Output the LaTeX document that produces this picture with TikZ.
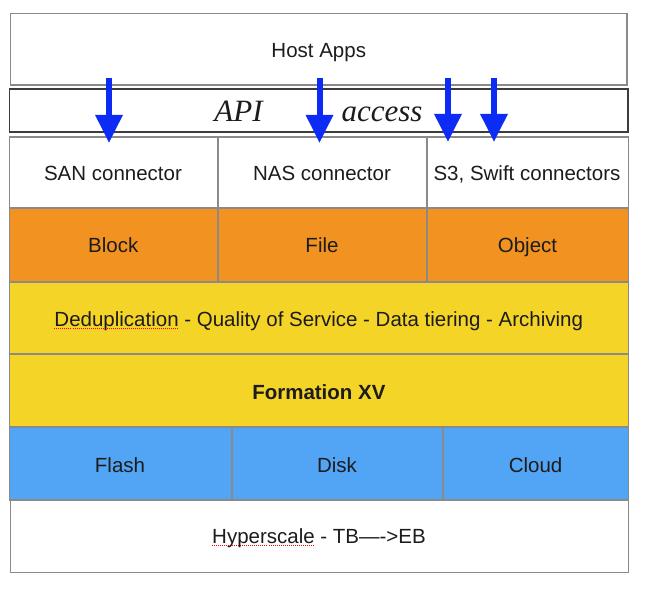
\documentclass[tikz,border=0pt]{standalone}
\usepackage{fontspec}
\setmainfont{Liberation Sans}
\newfontfamily\apifont{Liberation Serif}
\usetikzlibrary{arrows.meta}
\definecolor{bordergray}{RGB}{138,138,138}
\definecolor{apiborder}{RGB}{60,60,60}
\definecolor{layerorange}{RGB}{242,146,32}
\definecolor{layeryellow}{RGB}{245,212,40}
\definecolor{layerblue}{RGB}{82,165,245}
\definecolor{arrowblue}{RGB}{12,44,245}
\definecolor{txtcol}{RGB}{28,28,28}
\newcommand\spellmark[1]{\leavevmode\setbox0\hbox{#1}\rlap{\textcolor{red}{\raisebox{-2.6pt}{\hbox to\wd0{\xleaders\hbox{\rule{1pt}{1pt}\kern1pt}\hfill}}}}\box0\relax}
\begin{document}
\begin{tikzpicture}[x=1pt,y=-1pt,
  box/.style={draw=bordergray,line width=1.6pt},
  apibox/.style={draw=apiborder,line width=1.2pt,fill=white},
  whitebox/.style={box,fill=white},
  orangebox/.style={box,fill=layerorange},
  yellowbox/.style={box,fill=layeryellow},
  bluebox/.style={box,fill=layerblue},
  txt/.style={anchor=base,inner sep=0pt,text=txtcol,font=\fontsize{20.5}{24}\selectfont},
  apitxt/.style={anchor=base,inner sep=0pt,text=txtcol,font=\apifont\itshape\fontsize{31}{36}\selectfont},
  bluearrow/.style={draw=arrowblue,line width=6pt,-{Triangle[width=26pt,length=28pt,fill=arrowblue]}}]
\useasboundingbox[fill=white] (0,0) rectangle (648,591);
% host apps
\draw[whitebox] (10.5,13.5) rectangle (627,85);
\node[txt] (host) at (318.75,57.3) {Host Apps};
% api
\draw[apibox] (9.5,89) rectangle (628,132);
\node[apitxt] (api) at (318.5,121.7) {API\hspace{79pt}access};
% connectors
\draw[whitebox] (9.5,137) rectangle (218,208);
\draw[whitebox] (218,137) rectangle (427,208);
\draw[whitebox] (427,137) rectangle (628.5,208);
\node[txt] (san) at (113,181) {SAN connector};
\node[txt] (nas) at (322,181) {NAS connector};
\node[txt] (s3) at (527,181) {S3, Swift connectors};
% protocols
\draw[orangebox] (9.5,208) rectangle (218,282);
\draw[orangebox] (218,208) rectangle (427,282);
\draw[orangebox] (427,208) rectangle (628.5,282);
\node[txt] (block) at (113.3,252.3) {Block};
\node[txt] (file) at (322,252.3) {File};
\node[txt] (object) at (527.5,252.3) {Object};
% services
\draw[yellowbox] (9.5,282) rectangle (628.5,354);
\node[txt] (dedup) at (318.8,326.7) {\spellmark{Deduplication} - Quality of Service - Data tiering - Archiving};
\draw[yellowbox] (9.5,354) rectangle (628.5,427);
\node[txt,font=\bfseries\fontsize{20.5}{24}\selectfont] (formation) at (318.9,399) {Formation XV};
% media
\draw[bluebox] (9.5,427) rectangle (232,500);
\draw[bluebox] (232,427) rectangle (443,500);
\draw[bluebox] (443,427) rectangle (628.5,500);
\node[txt] (flash) at (120,472.3) {Flash};
\node[txt] (disk) at (337,472.3) {Disk};
\node[txt] (cloud) at (535.6,472.3) {Cloud};
% hyperscale
\draw[whitebox] (10.3,500) rectangle (628.5,572.3);
\node[txt] (hyper) at (319,543.3) {\spellmark{Hyperscale} - TB—->EB};
% arrows
\coordinate (a1s) at (109,78);  \coordinate (a1e) at (109,143);
\coordinate (a2s) at (319.5,78);\coordinate (a2e) at (319.5,143);
\coordinate (a3s) at (448,78);  \coordinate (a3e) at (448,142);
\coordinate (a4s) at (494,78);  \coordinate (a4e) at (494,142);
\draw[bluearrow] (a1s) -- (a1e);
\draw[bluearrow] (a2s) -- (a2e);
\draw[bluearrow] (a3s) -- (a3e);
\draw[bluearrow] (a4s) -- (a4e);
\end{tikzpicture}
\end{document}
